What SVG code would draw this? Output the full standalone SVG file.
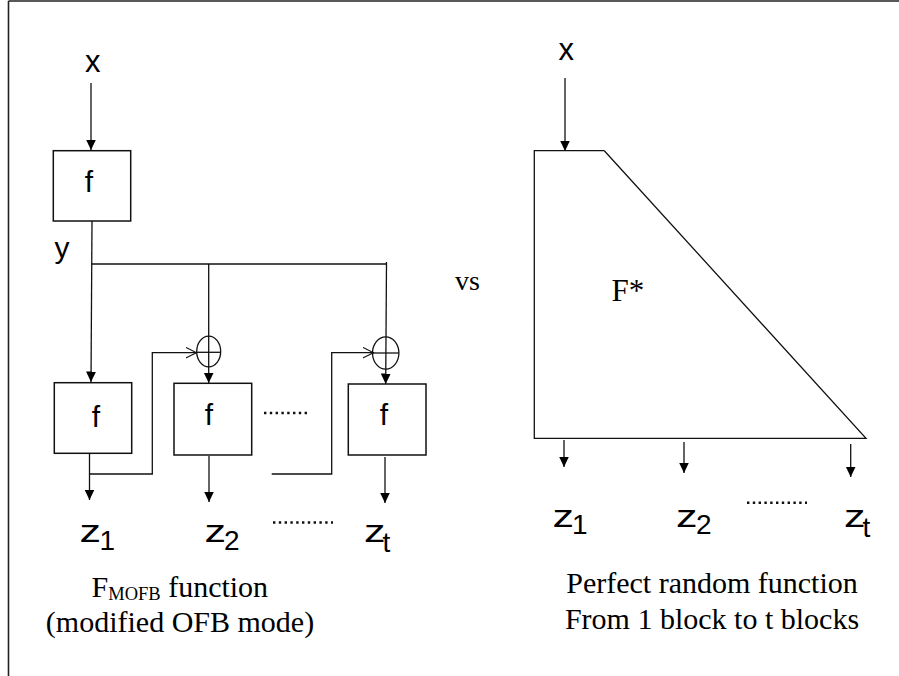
<svg xmlns="http://www.w3.org/2000/svg" width="899" height="676" viewBox="0 0 899 676">
<style>
  .ln { stroke:#111; stroke-width:1.3; fill:none; }
  .box { stroke:#111; stroke-width:1.5; fill:#fff; }
  .sans { font-family:"Liberation Sans", Arial, sans-serif; fill:#000; }
  .serif { font-family:"Liberation Serif", "Times New Roman", serif; fill:#000; }
  .dots { stroke:#111; stroke-width:2.6; stroke-dasharray:2.4 3.4; fill:none; }
</style>
<defs>
  <marker id="ah" markerUnits="userSpaceOnUse" markerWidth="11" markerHeight="11" refX="10.5" refY="5" orient="auto">
    <path d="M0,0 L10.5,5 L0,10 Z" fill="#000"/>
  </marker>
  <marker id="oh" markerUnits="userSpaceOnUse" markerWidth="12" markerHeight="12" refX="11" refY="5.5" orient="auto">
    <path d="M0,0 L11,5.5 L0,11" fill="none" stroke="#111" stroke-width="1.1"/>
  </marker>
</defs>
<rect width="899" height="676" fill="#fff"/>
<g id="frame">
  <line x1="8.5" y1="1" x2="899" y2="1" stroke="#222" stroke-width="1.6"/>
  <line x1="8.5" y1="1" x2="8.5" y2="676" stroke="#222" stroke-width="1.6"/>
</g>

<g id="connectors">
  <!-- left -->
  <line class="ln" x1="91" y1="83" x2="91" y2="150" marker-end="url(#ah)"/>
  <line class="ln" x1="92" y1="221" x2="91" y2="382" marker-end="url(#ah)"/>
  <polyline class="ln" points="92,264 386,264"/>
  <line class="ln" x1="208.7" y1="264" x2="208.7" y2="383" marker-end="url(#ah)"/>
  <line class="ln" x1="386.5" y1="262" x2="385.7" y2="384" marker-end="url(#ah)"/>
  <line class="ln" x1="89.5" y1="453" x2="89.5" y2="500" marker-end="url(#ah)"/>
  <polyline class="ln" points="89.5,474 152.3,474 152.3,352.7 196.5,352.7" marker-end="url(#oh)"/>
  <line class="ln" x1="209" y1="456" x2="209" y2="502" marker-end="url(#ah)"/>
  <polyline class="ln" points="271.7,474 331.7,474 331.7,352.7 373.5,352.7" marker-end="url(#oh)"/>
  <line class="ln" x1="385" y1="457" x2="385" y2="503" marker-end="url(#ah)"/>
  <!-- right -->
  <line class="ln" x1="565" y1="78" x2="565" y2="151" marker-end="url(#ah)"/>
  <line class="ln" x1="564" y1="440" x2="564" y2="467" marker-end="url(#ah)"/>
  <line class="ln" x1="684" y1="442" x2="684" y2="473" marker-end="url(#ah)"/>
  <line class="ln" x1="850.7" y1="444" x2="850.7" y2="477" marker-end="url(#ah)"/>
</g>

<g id="f1">
  <rect class="box" x="53.3" y="150.7" width="77.4" height="70.3"/>
  <text class="sans" x="89" y="191.7" font-size="30" text-anchor="middle">f</text>
</g>
<g id="f2">
  <rect class="box" x="54.3" y="382.7" width="77.4" height="70.6"/>
  <text class="sans" x="96" y="427" font-size="30" text-anchor="middle">f</text>
</g>
<g id="f3">
  <rect class="box" x="174" y="383.3" width="77.7" height="71.7"/>
  <text class="sans" x="209" y="425" font-size="30" text-anchor="middle">f</text>
</g>
<g id="f4">
  <rect class="box" x="348.3" y="384" width="77.7" height="71"/>
  <text class="sans" x="384" y="425" font-size="30" text-anchor="middle">f</text>
</g>
<g id="xor1">
  <ellipse class="ln" cx="208.7" cy="351.5" rx="12" ry="15.3"/>
  <line class="ln" x1="196.7" y1="352.3" x2="220.7" y2="352.3"/>
</g>
<g id="xor2">
  <ellipse class="ln" cx="385.7" cy="353" rx="13.2" ry="16.2"/>
  <line class="ln" x1="372.5" y1="353" x2="398.9" y2="353"/>
</g>

<g id="left-labels">
  <text class="sans" x="92.7" y="72" font-size="31" text-anchor="middle">x</text>
  <text class="sans" x="62" y="258" font-size="30" text-anchor="middle">y</text>
  <line class="dots" x1="264" y1="413" x2="308" y2="413"/>
  <line class="dots" x1="273" y1="522.5" x2="333" y2="522.5"/>
  <text class="sans" x="79.5" y="542" font-size="32" textLength="21.5" lengthAdjust="spacingAndGlyphs">z</text>
  <text class="sans" x="99.5" y="550" font-size="28">1</text>
  <text class="sans" x="204.5" y="542" font-size="32" textLength="21.5" lengthAdjust="spacingAndGlyphs">z</text>
  <text class="sans" x="224" y="550" font-size="28">2</text>
  <text class="sans" x="364" y="542" font-size="32" textLength="21.5" lengthAdjust="spacingAndGlyphs">z</text>
  <text class="sans" x="382.5" y="552" font-size="28">t</text>
  <text class="serif" x="91.5" y="597" font-size="30">F<tspan font-size="18.5" dy="3">MOFB</tspan><tspan dy="-3"> function</tspan></text>
  <text class="serif" x="180" y="631.7" font-size="30" text-anchor="middle">(modified OFB mode)</text>
</g>

<g id="fstar">
  <polyline class="ln" points="604.3,150.7 534.3,150.7 534.3,438.3 866,438.3 604.3,150.7"/>
  <text class="serif" x="611.5" y="301" font-size="31">F*</text>
</g>

<g id="right-labels">
  <text class="serif" x="455" y="290" font-size="28">vs</text>
  <text class="sans" x="566.3" y="60" font-size="31" text-anchor="middle">x</text>
  <line class="dots" x1="747" y1="502.7" x2="807" y2="502.7"/>
  <text class="sans" x="552.5" y="526.7" font-size="32" textLength="21.5" lengthAdjust="spacingAndGlyphs">z</text>
  <text class="sans" x="572" y="534" font-size="28">1</text>
  <text class="sans" x="676" y="526.7" font-size="32" textLength="21.5" lengthAdjust="spacingAndGlyphs">z</text>
  <text class="sans" x="696" y="534" font-size="28">2</text>
  <text class="sans" x="844" y="526.7" font-size="32" textLength="21.5" lengthAdjust="spacingAndGlyphs">z</text>
  <text class="sans" x="862.5" y="537" font-size="28">t</text>
  <text class="serif" x="712" y="593.3" font-size="30" text-anchor="middle">Perfect random function</text>
  <text class="serif" x="712" y="629" font-size="30" text-anchor="middle">From 1 block to t blocks</text>
</g>
</svg>
